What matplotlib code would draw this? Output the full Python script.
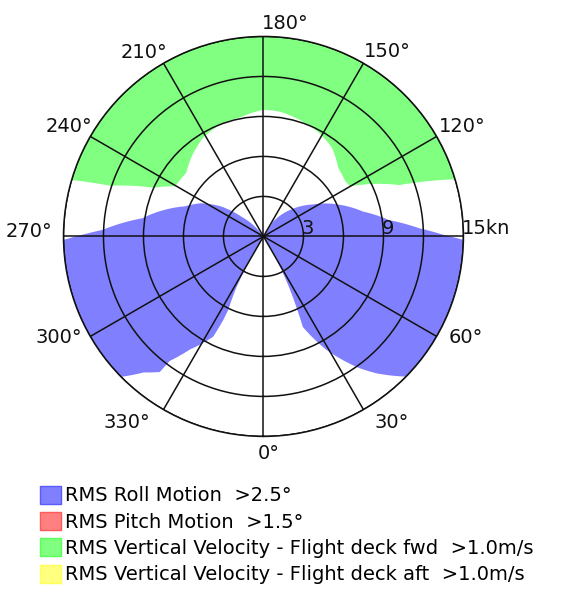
import numpy as np
import matplotlib.pyplot as plt
from matplotlib.path import Path
from matplotlib.patches import PathPatch, Patch

plt.rcParams['font.family'] = 'DejaVu Sans'
FS = 14

# Boundary of each exceedance region: heading (deg) and ship speed (kn)
roll_stbd_heading = [30, 29.5, 28, 25, 23.5, 28.7, 36, 39.5, 45.5, 89, 90.5, 93, 97.4, 104, 112.5, 119, 123, 135, 147, 147]
roll_stbd_speed = [0, 1.45, 3.1, 5.8, 7.4, 9.6, 12.2, 13.3, 15, 15, 13.5, 11.7, 9.5, 7.7, 6.2, 5.1, 4.4, 2.8, 1.3, 0]

roll_port_heading = [330, 330, 332, 334.4, 334.3, 333.4, 327, 323, 322.6, 318.6, 314.6, 271, 269.5, 267.7, 261.5, 249, 242, 234.5, 228, 219, 219]
roll_port_speed = [0, 2.0, 4.3, 6.1, 7.0, 8.4, 10.1, 11.7, 12.8, 13.6, 15, 15, 13.6, 12.1, 9.2, 6.3, 5.3, 3.85, 2.2, 0.6, 0]

vv_fwd_heading = [106.6, 253.6, 251.7, 246.1, 240.3, 230.5, 222, 211, 201, 191, 180, 172.5, 161, 151.3, 142.3, 132.4, 124, 120, 110.7]
vv_fwd_speed = [15, 15, 12.1, 9.0, 7.6, 7.5, 8.05, 8.7, 9.0, 9.1, 9.5, 9.44, 9.1, 8.8, 8.4, 7.6, 7.4, 7.5, 10.9]

ring_speeds = [3, 6, 9, 12, 15]
ring_labels = ['3', '', '9', '', '15kn']
heading_ticks = [0, 30, 60, 120, 150, 180, 210, 240, 270, 300, 330]
heading_labels = ['0°', '30°', '60°', '120°', '150°', '180°', '210°', '240°', '270°', '300°', '330°']

legend_labels = ['RMS Roll Motion  >2.5°',
                 'RMS Pitch Motion  >1.5°',
                 'RMS Vertical Velocity - Flight deck fwd  >1.0m/s',
                 'RMS Vertical Velocity - Flight deck aft  >1.0m/s']
legend_colors = ['#8080ff', '#ff8080', '#80ff80', '#ffff80']
legend_edges = ['#5a5aff', '#ff5a5a', '#5aff5a', '#ffff5a']

# label placement (alignment, pixel offset from rim point)
heading_label_pos = {
    0: ('left', -6, -23), 30: ('left', 11, -18), 60: ('left', 12, -7),
    120: ('left', 2, 4), 150: ('left', 0, 6), 180: ('left', -2, 7),
    210: ('right', 4, 5), 240: ('right', 2, 4), 270: ('right', -11, -1),
    300: ('right', -8, -7), 330: ('right', -13, -18),
}


def add_region(ax, heading, speed, color):
    verts = np.column_stack([np.deg2rad(heading), speed])
    verts = np.vstack([verts, verts[:1]])
    codes = [Path.MOVETO] + [Path.LINETO] * (len(verts) - 1)
    path = Path(verts, codes, _interpolation_steps=60)
    ax.add_patch(PathPatch(path, facecolor=color, edgecolor='none', zorder=1))


fig = plt.figure(figsize=(5.73, 5.99), dpi=100)
ax = fig.add_axes([0.1108, 0.2713, 0.698, 0.668], projection='polar')
ax.set_theta_zero_location('S')
ax.set_theta_direction(1)
ax.set_ylim(0, 15)
ax.set_xticks(np.deg2rad(np.arange(0, 360, 30)))
ax.set_yticks(ring_speeds)
ax.set_xticklabels([])
ax.set_yticklabels([])
ax.set_axisbelow(False)
ax.grid(True, color='#111111', linewidth=1.1)
ax.spines['polar'].set_color('#111111')
ax.spines['polar'].set_linewidth(1.1)

add_region(ax, roll_stbd_heading, roll_stbd_speed, legend_colors[0])
add_region(ax, roll_port_heading, roll_port_speed, legend_colors[0])
add_region(ax, vv_fwd_heading, vv_fwd_speed, legend_colors[2])

for h, lbl in zip(heading_ticks, heading_labels):
    ha, dx, dy = heading_label_pos[h]
    ax.annotate(lbl, xy=(np.deg2rad(h), 15), xytext=(dx, dy), textcoords='offset pixels',
                ha=ha, va='baseline', fontsize=FS, color='#111111', annotation_clip=False)

for r, lbl in zip(ring_speeds, ring_labels):
    if lbl:
        ax.annotate(lbl, xy=(np.deg2rad(90), r), xytext=(-2, 2), textcoords='offset pixels',
                    ha='left', va='baseline', fontsize=FS, color='#111111', annotation_clip=False)

handles = [Patch(facecolor=c, edgecolor=e, linewidth=1.0) for c, e in zip(legend_colors, legend_edges)]
fig.legend(handles, legend_labels, loc='upper left', bbox_to_anchor=(0.0698, 0.189),
           frameon=False, fontsize=FS, handlelength=1.06, handleheight=1.03,
           handletextpad=0.25, labelspacing=0.35, borderpad=0, borderaxespad=0)

fig.savefig('out.png', dpi=100)
